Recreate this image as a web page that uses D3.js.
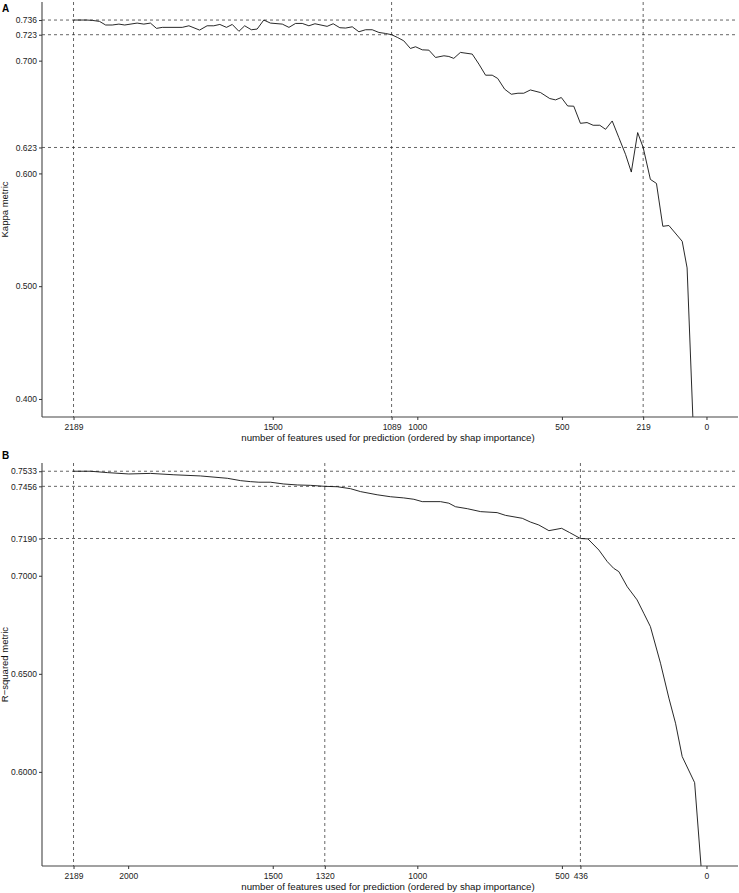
<!DOCTYPE html>
<html>
<head>
<meta charset="utf-8">
<script src="https://cdn.jsdelivr.net/npm/d3@7"></script>
<style>
  body { margin: 0; background: #fff; }
  svg { font-family: "Liberation Sans", Arial, Helvetica, sans-serif; }
</style>
</head>
<body>
<svg width="739" height="893"></svg>
<script>
// kappa curve (panel A)
var kappaFeatures = [2189, 2144, 2124, 2099, 2078, 2055, 2032, 2012, 1969, 1946, 1923, 1902, 1882, 1813, 1790, 1753, 1727, 1704, 1683, 1660,
  1640, 1617, 1597, 1574, 1554, 1531, 1508, 1467, 1444, 1421, 1398, 1375, 1354, 1312, 1291, 1268, 1248, 1225, 1202, 1179,
  1156, 1133, 1110, 1089, 1069, 1047, 1024, 1006, 983, 960, 937, 908, 891, 874, 851, 810, 787, 764, 741, 722,
  698, 675, 652, 632, 609, 574, 542, 522, 502, 480, 459, 436, 413, 392, 369, 349, 326, 303, 280, 260,
  238, 219, 194, 173, 151, 130, 84, 67, 47];
var kappaValues = [0.736, 0.736, 0.7357, 0.7348, 0.7316, 0.7316, 0.7324, 0.7316, 0.7333, 0.7324, 0.7333, 0.7286, 0.7295, 0.7295, 0.7309, 0.7271, 0.7309, 0.7309, 0.7321, 0.7295,
  0.7321, 0.726, 0.7309, 0.7274, 0.728, 0.736, 0.7333, 0.7324, 0.7295, 0.733, 0.733, 0.7309, 0.7327, 0.7304, 0.7327, 0.7292, 0.7289, 0.730, 0.7256, 0.7274,
  0.7274, 0.725, 0.7241, 0.723, 0.7206, 0.7176, 0.7108, 0.7123, 0.7096, 0.7093, 0.7028, 0.7043, 0.7037, 0.702, 0.7073, 0.7058, 0.6969, 0.6871, 0.6871, 0.6842,
  0.6747, 0.6702, 0.6711, 0.6711, 0.674, 0.6717, 0.6664, 0.6652, 0.6673, 0.6598, 0.6596, 0.6444, 0.6451, 0.6427, 0.6427, 0.6391, 0.6465, 0.6317, 0.6169, 0.6012,
  0.6362, 0.623, 0.5947, 0.5911, 0.5531, 0.5538, 0.5398, 0.5162, 0.383];

// R-squared curve (panel B)
var rsqFeatures = [2189, 2130, 2072, 1998, 1923, 1842, 1750, 1657, 1611, 1577, 1548, 1508, 1462, 1415, 1369, 1320, 1277, 1231, 1196, 1139,
  1093, 1047, 1012, 983, 920, 891, 868, 827, 781, 724, 695, 637, 609, 580, 545, 501, 473, 436, 410, 372,
  343, 321, 303, 274, 240, 217, 194, 159, 130, 107, 84, 41, 18];
var rsqValues = [0.7533, 0.7533, 0.7526, 0.7519, 0.7522, 0.7515, 0.7509, 0.7497, 0.7485, 0.748, 0.7477, 0.7477, 0.7468, 0.7463, 0.7461, 0.7456, 0.7454, 0.7444, 0.7429, 0.7413,
  0.7403, 0.7397, 0.739, 0.7378, 0.7378, 0.737, 0.7352, 0.7342, 0.7327, 0.7322, 0.7308, 0.7293, 0.7274, 0.7259, 0.723, 0.7242, 0.722, 0.719, 0.7188, 0.7131,
  0.7072, 0.7038, 0.7021, 0.6944, 0.6877, 0.6809, 0.6741, 0.6554, 0.6376, 0.6248, 0.6078, 0.5945, 0.5504];

// ticks and reference lines
var kappaXTicks = [2189, 1500, 1089, 1000, 500, 219, 0];
var kappaYTicks = [0.400, 0.500, 0.600, 0.623, 0.700, 0.723, 0.736];
var kappaVLines = [2189, 1089, 219];
var kappaHLines = [0.736, 0.723, 0.623];

var rsqXTicks = [2189, 2000, 1500, 1320, 1000, 500, 436, 0];
var rsqYTicks = [0.6000, 0.6500, 0.7000, 0.7190, 0.7456, 0.7533];
var rsqVLines = [2189, 1320, 436];
var rsqHLines = [0.7533, 0.7456, 0.7190];

var xTitle = "number of features used for prediction (ordered by shap importance)";

var svg = d3.select("svg");
var left = 42, right = 738;

var x = d3.scaleLinear().domain([2298, -109]).range([left, right]);

function drawPanel(opt) {
  var y = d3.scaleLinear().domain(opt.yDomain).range([opt.bottom, opt.top]);
  var g = svg.append("g");

  g.append("clipPath").attr("id", "clip" + opt.tag)
    .append("rect")
      .attr("x", left).attr("y", opt.top)
      .attr("width", right - left).attr("height", opt.bottom - opt.top);

  // dashed reference lines
  g.selectAll(".vl").data(opt.vLines).enter().append("line")
      .attr("x1", function(d) { return x(d); }).attr("x2", function(d) { return x(d); })
      .attr("y1", opt.top).attr("y2", opt.bottom)
      .attr("stroke", "#222").attr("stroke-width", 0.7).attr("stroke-dasharray", "3,3");
  g.selectAll(".hl").data(opt.hLines).enter().append("line")
      .attr("x1", left).attr("x2", right)
      .attr("y1", function(d) { return y(d); }).attr("y2", function(d) { return y(d); })
      .attr("stroke", "#222").attr("stroke-width", 0.7).attr("stroke-dasharray", "3,3");

  var pts = opt.features.map(function(f, i) { return [f, opt.values[i]]; });
  var line = d3.line()
      .x(function(d) { return x(d[0]); })
      .y(function(d) { return y(d[1]); });

  g.append("path")
      .datum(pts)
      .attr("clip-path", "url(#clip" + opt.tag + ")")
      .attr("fill", "none")
      .attr("stroke", "#111")
      .attr("stroke-width", 0.9)
      .attr("d", line);

  // axes
  var xAxis = g.append("g")
      .attr("transform", "translate(0," + opt.bottom + ")")
      .call(d3.axisBottom(x).tickValues(opt.xTicks).tickFormat(d3.format("d")).tickSize(3).tickPadding(3.5));
  xAxis.select(".domain").attr("d", "M" + left + ",0H" + right);

  var yAxis = g.append("g")
      .attr("transform", "translate(" + left + ",0)")
      .call(d3.axisLeft(y).tickValues(opt.yTicks).tickFormat(d3.format(opt.fmt)).tickSize(3).tickPadding(2));
  yAxis.select(".domain").attr("d", "M0," + opt.top + "V" + opt.bottom);

  g.selectAll(".domain").attr("stroke", "#444").attr("stroke-width", 1.1);
  g.selectAll(".tick line").attr("stroke", "#333");
  g.selectAll(".tick text").attr("fill", "#222").style("font-size", "8.5px");

  g.append("text")
      .attr("x", (left + right) / 2 - 2)
      .attr("y", opt.bottom + 24)
      .attr("text-anchor", "middle")
      .style("font-size", "9.7px")
      .attr("fill", "#111")
      .text(xTitle);

  g.append("text")
      .attr("transform", "translate(8," + ((opt.top + opt.bottom) / 2) + ") rotate(-90)")
      .attr("text-anchor", "middle")
      .style("font-size", "9.5px")
      .attr("fill", "#111")
      .text(opt.yTitle);

  g.append("text")
      .attr("x", 2)
      .attr("y", opt.top + opt.tagDy)
      .style("font-size", "10px")
      .style("font-weight", "bold")
      .text(opt.tag);
}

drawPanel({
  tag: "A", top: 2, bottom: 417, yDomain: [0.384, 0.752], fmt: ".3f",
  features: kappaFeatures, values: kappaValues,
  xTicks: kappaXTicks, yTicks: kappaYTicks, vLines: kappaVLines, hLines: kappaHLines,
  yTitle: "Kappa metric", tagDy: 10
});

drawPanel({
  tag: "B", top: 463, bottom: 866, yDomain: [0.552, 0.7575], fmt: ".4f",
  features: rsqFeatures, values: rsqValues,
  xTicks: rsqXTicks, yTicks: rsqYTicks, vLines: rsqVLines, hLines: rsqHLines,
  yTitle: "R\u2212squared metric", tagDy: -4
});
</script>
</body>
</html>
